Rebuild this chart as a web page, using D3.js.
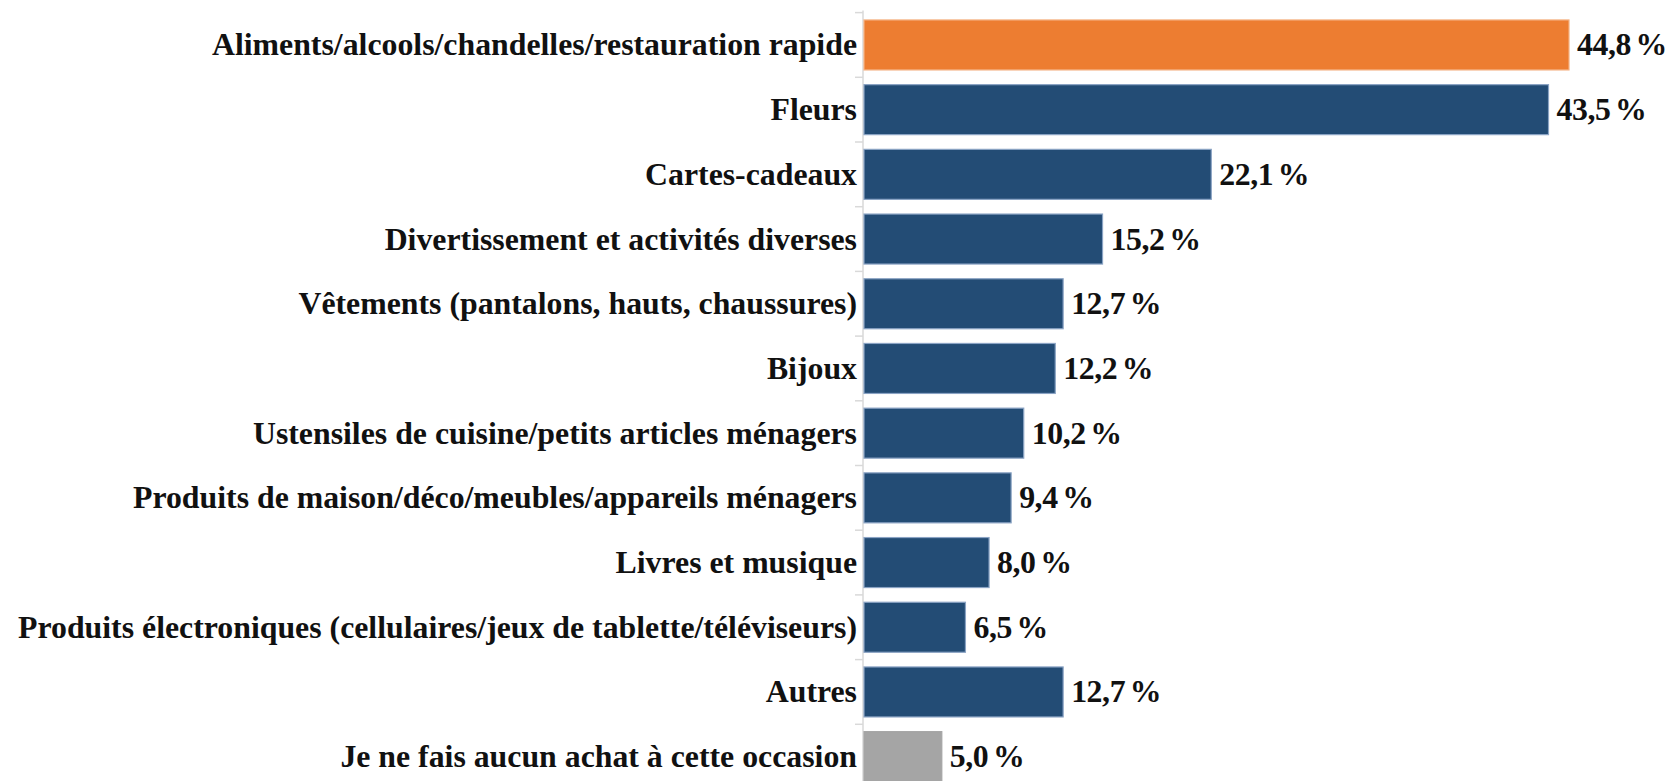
<!DOCTYPE html>
<html>
<head>
<meta charset="utf-8">
<script src="https://cdnjs.cloudflare.com/ajax/libs/d3/7.8.5/d3.min.js"></script>
<style>
html,body{margin:0;padding:0;background:#fff;overflow:hidden;}
svg{display:block;}
</style>
</head>
<body>
<svg id="chart" width="1667" height="781"></svg>
<script>
const categories = [
  "Aliments/alcools/chandelles/restauration rapide",
  "Fleurs",
  "Cartes-cadeaux",
  "Divertissement et activités diverses",
  "Vêtements (pantalons, hauts, chaussures)",
  "Bijoux",
  "Ustensiles de cuisine/petits articles ménagers",
  "Produits de maison/déco/meubles/appareils ménagers",
  "Livres et musique",
  "Produits électroniques (cellulaires/jeux de tablette/téléviseurs)",
  "Autres",
  "Je ne fais aucun achat à cette occasion"
];
const values = [44.8, 43.5, 22.1, 15.2, 12.7, 12.2, 10.2, 9.4, 8.0, 6.5, 12.7, 5.0];
const valueLabels = ["44,8 %", "43,5 %", "22,1 %", "15,2 %", "12,7 %", "12,2 %", "10,2 %", "9,4 %", "8,0 %", "6,5 %", "12,7 %", "5,0 %"];
const barKinds = ["highlight","base","base","base","base","base","base","base","base","base","base","none"];

const fills = {highlight: "#ED7D31", base: "#234C75", none: "#A5A5A5"};
const strokes = {highlight: "#F4B183", base: "#8AA3C4", none: "#A5A5A5"};

const svg = d3.select("#chart");
const x0 = 863;
const step = 64.7;
const yTop = 12.6;
const pInner = 14.7 / step;

const x = d3.scaleLinear().domain([0, 44.8]).range([x0, x0 + 706]);
const y = d3.scaleBand().domain(categories)
  .range([yTop, yTop + categories.length * step])
  .paddingInner(pInner).paddingOuter(pInner / 2);

const font = "'Liberation Serif', 'Times New Roman', serif";

// measure font size so the longest label fits the observed width
const probe = svg.append("text").attr("font-family", font).attr("font-weight", "bold")
  .attr("font-size", 100).text(categories[9]);
const w100 = probe.node().getComputedTextLength();
probe.remove();
const fs = Math.round(840 / w100 * 100 * 10) / 10;

// axis line
svg.append("line")
  .attr("x1", x0).attr("x2", x0)
  .attr("y1", yTop - 2).attr("y2", 781)
  .attr("stroke", "#D9D9D9").attr("stroke-width", 1.5);

// ticks at band boundaries
const bounds = categories.map(c => y(c) - y.step() * pInner / 2);
svg.selectAll("line.tick").data(bounds).enter().append("line")
  .attr("class", "tick")
  .attr("x1", x0 - 8).attr("x2", x0)
  .attr("y1", d => d).attr("y2", d => d)
  .attr("stroke", "#D9D9D9").attr("stroke-width", 1.5);

// bars
svg.selectAll("rect.bar").data(categories).enter().append("rect")
  .attr("class", "bar")
  .attr("x", x(0) + 1)
  .attr("y", d => y(d))
  .attr("width", (d, i) => x(values[i]) - x(0) - 1)
  .attr("height", y.bandwidth())
  .attr("fill", (d, i) => fills[barKinds[i]])
  .attr("stroke", (d, i) => strokes[barKinds[i]])
  .attr("stroke-width", 1.2);

// category labels
svg.selectAll("text.cat").data(categories).enter().append("text")
  .attr("class", "cat")
  .attr("x", 857)
  .attr("y", d => y(d) + y.bandwidth() / 2 + fs * 0.33)
  .attr("text-anchor", "end")
  .attr("font-family", font).attr("font-weight", "bold")
  .attr("font-size", fs).attr("fill", "#111")
  .text(d => d);

// value labels
svg.selectAll("text.val").data(categories).enter().append("text")
  .attr("class", "val")
  .attr("x", (d, i) => x(values[i]) + 8)
  .attr("y", d => y(d) + y.bandwidth() / 2 + fs * 0.33)
  .attr("font-family", font).attr("font-weight", "bold")
  .attr("font-size", fs).attr("fill", "#111")
  .attr("word-spacing", -3).attr("letter-spacing", -0.4)
  .text((d, i) => valueLabels[i]);
</script>
</body>
</html>
